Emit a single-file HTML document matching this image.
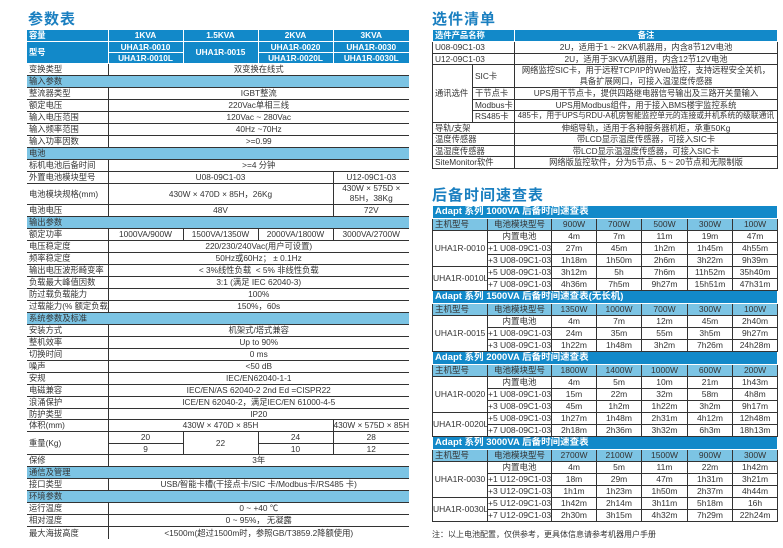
<!DOCTYPE html>
<html><head><meta charset="utf-8">
<style>
*{margin:0;padding:0;box-sizing:border-box}
body{width:783px;height:548px;background:#fff;position:relative;overflow:hidden;font-family:"Liberation Sans","Noto Sans CJK SC",sans-serif;color:#333}
.title{position:absolute;font-size:15px;font-weight:bold;color:#1a7fc0;letter-spacing:1px}
table{position:absolute;border-collapse:collapse;table-layout:fixed;font-size:8.3px}
td{border:1px solid #333;text-align:center;white-space:nowrap;overflow:hidden;line-height:1;padding:0}
td.l{text-align:left;padding-left:2px}
tr.h td{background:#1289c9;color:#fff;font-weight:bold;border-color:#fff}
tr.s td{background:#7cc4e4;color:#333;border-color:#333}
tr.c td{background:#7cc4e4;color:#333}
#L td{height:12px}
#L td:first-child{border-left:none}
#L td:last-child{border-right:none}
</style></head><body>
<div class="title" style="left:28px;top:8px">参数表</div>
<table id="L" style="left:27px;top:29px;width:382px">
<colgroup><col style="width:81px"><col style="width:75px"><col style="width:75px"><col style="width:75px"><col style="width:76px"></colgroup>
<tr class="h"><td class="l">容量</td><td>1KVA</td><td>1.5KVA</td><td>2KVA</td><td>3KVA</td></tr>
<tr class="h"><td class="l" rowspan="2">型号</td><td style="height:11px">UHA1R-0010</td><td rowspan="2">UHA1R-0015</td><td style="height:11px">UHA1R-0020</td><td style="height:11px">UHA1R-0030</td></tr>
<tr class="h"><td style="height:11px">UHA1R-0010L</td><td style="height:11px">UHA1R-0020L</td><td style="height:11px">UHA1R-0030L</td></tr>
<tr><td class="l">变换类型</td><td colspan="4">双变换在线式</td></tr>
<tr class="s"><td class="l" colspan="5">输入参数</td></tr>
<tr><td class="l">整流器类型</td><td colspan="4">IGBT整流</td></tr>
<tr><td class="l">额定电压</td><td colspan="4">220Vac单相三线</td></tr>
<tr><td class="l">输入电压范围</td><td colspan="4">120Vac ~ 280Vac</td></tr>
<tr><td class="l">输入频率范围</td><td colspan="4">40Hz ~70Hz</td></tr>
<tr><td class="l">输入功率因数</td><td colspan="4">&gt;=0.99</td></tr>
<tr class="s"><td class="l" colspan="5">电池</td></tr>
<tr><td class="l">标机电池后备时间</td><td colspan="4">&gt;=4 分钟</td></tr>
<tr><td class="l">外置电池模块型号</td><td colspan="3">U08-09C1-03</td><td>U12-09C1-03</td></tr>
<tr><td class="l" style="height:21px">电池模块规格(mm)</td><td colspan="3">430W × 470D × 85H，26Kg</td><td style="line-height:1.15">430W × 575D ×<br>85H，38Kg</td></tr>
<tr><td class="l">电池电压</td><td colspan="3">48V</td><td>72V</td></tr>
<tr class="s"><td class="l" colspan="5">输出参数</td></tr>
<tr><td class="l">额定功率</td><td>1000VA/900W</td><td>1500VA/1350W</td><td>2000VA/1800W</td><td>3000VA/2700W</td></tr>
<tr><td class="l">电压稳定度</td><td colspan="4">220/230/240Vac(用户可设置)</td></tr>
<tr><td class="l">频率稳定度</td><td colspan="4">50Hz或60Hz； ± 0.1Hz</td></tr>
<tr><td class="l">输出电压波形畸变率</td><td colspan="4">&lt; 3%线性负载 &nbsp;&lt; 5% 非线性负载</td></tr>
<tr><td class="l">负载最大峰值因数</td><td colspan="4">3:1 (满足 IEC 62040-3)</td></tr>
<tr><td class="l">防过载负载能力</td><td colspan="4">100%</td></tr>
<tr><td class="l">过载能力(% 额定负载)</td><td colspan="4">150%，60s</td></tr>
<tr class="s"><td class="l" colspan="5">系统参数及标准</td></tr>
<tr><td class="l">安装方式</td><td colspan="4">机架式/塔式兼容</td></tr>
<tr><td class="l">整机效率</td><td colspan="4">Up to 90%</td></tr>
<tr><td class="l">切换时间</td><td colspan="4">0 ms</td></tr>
<tr><td class="l">噪声</td><td colspan="4">&lt;50 dB</td></tr>
<tr><td class="l">安规</td><td colspan="4">IEC/EN62040-1-1</td></tr>
<tr><td class="l">电磁兼容</td><td colspan="4">IEC/EN/AS 62040-2 2nd Ed =CISPR22</td></tr>
<tr><td class="l">浪涌保护</td><td colspan="4">ICE/EN 62040-2，满足IEC/EN 61000-4-5</td></tr>
<tr><td class="l" style="height:11px">防护类型</td><td colspan="4" style="height:11px">IP20</td></tr>
<tr><td class="l">体积(mm)</td><td colspan="3">430W × 470D × 85H</td><td>430W × 575D × 85H</td></tr>
<tr><td class="l" rowspan="2">重量(Kg)</td><td style="height:11.5px">20</td><td rowspan="2">22</td><td style="height:11.5px">24</td><td style="height:11.5px">28</td></tr>
<tr><td style="height:11.5px">9</td><td style="height:11.5px">10</td><td style="height:11.5px">12</td></tr>
<tr><td class="l">保修</td><td colspan="4">3年</td></tr>
<tr class="s"><td class="l" colspan="5">通信及管理</td></tr>
<tr><td class="l">接口类型</td><td colspan="4">USB/智能卡槽(干接点卡/SIC 卡/Modbus卡/RS485 卡)</td></tr>
<tr class="s"><td class="l" colspan="5">环境参数</td></tr>
<tr><td class="l">运行温度</td><td colspan="4">0 ~ +40 ℃</td></tr>
<tr><td class="l">相对湿度</td><td colspan="4">0 ~ 95%， 无凝露</td></tr>
<tr><td class="l" style="border-bottom:none">最大海拔高度</td><td colspan="4" style="border-bottom:none">&lt;1500m(超过1500m时，参照GB/T3859.2降额使用)</td></tr>
</table>

<div class="title" style="left:432px;top:8px">选件清单</div>
<table style="left:432px;top:29px;width:345px">
<colgroup><col style="width:40px"><col style="width:42px"><col style="width:263px"></colgroup>
<tr class="h"><td class="l" colspan="2" style="height:12px">选件产品名称</td><td>备注</td></tr>
<tr><td class="l" colspan="2" style="height:11.5px">U08-09C1-03</td><td>2U，适用于1 ~ 2KVA机器用，内含8节12V电池</td></tr>
<tr><td class="l" colspan="2" style="height:11.5px">U12-09C1-03</td><td>2U，适用于3KVA机器用，内含12节12V电池</td></tr>
<tr><td class="l" rowspan="4">通讯选件</td><td class="l" style="height:23px">SIC卡</td><td style="line-height:1.3">网络监控SIC卡，用于远程TCP/IP的Web监控，支持远程安全关机，<br>具备扩展网口，可接入温湿度传感器</td></tr>
<tr><td class="l" style="height:11.5px">干节点卡</td><td>UPS用干节点卡，提供四路继电器信号输出及三路开关量输入</td></tr>
<tr><td class="l" style="height:11.5px">Modbus卡</td><td>UPS用Modbus组件，用于接入BMS楼宇监控系统</td></tr>
<tr><td class="l" style="height:11.5px">RS485卡</td><td style="font-size:7.8px">485卡，用于UPS与RDU-A机房智能监控单元的连接或并机系统的级联通讯</td></tr>
<tr><td class="l" colspan="2" style="height:11.5px">导轨/支架</td><td>伸缩导轨，适用于各种服务器机柜，承重50Kg</td></tr>
<tr><td class="l" colspan="2" style="height:11.5px">温度传感器</td><td>带LCD显示温度传感器，可接入SIC卡</td></tr>
<tr><td class="l" colspan="2" style="height:11.5px">温湿度传感器</td><td>带LCD显示温湿度传感器，可接入SIC卡</td></tr>
<tr><td class="l" colspan="2" style="height:11.5px">SiteMonitor软件</td><td>网络版监控软件，分为5节点、5 ~ 20节点和无限制版</td></tr>
</table>

<div class="title" style="left:432px;top:184px">后备时间速查表</div>
<table style="left:432px;top:205px;width:345px;font-size:8.5px">
<colgroup><col style="width:55px"><col style="width:64px"><col style="width:45px"><col style="width:45px"><col style="width:46px"><col style="width:45px"><col style="width:45px"></colgroup>
<tr class="h"><td class="l" colspan="7" style="height:13px;font-size:9.5px">Adapt 系列 1000VA 后备时间速查表</td></tr>
<tr class="c"><td class="l" style="height:12px">主机型号</td><td>电池模块型号</td><td>900W</td><td>700W</td><td>500W</td><td>300W</td><td>100W</td></tr>
<tr><td rowspan="3">UHA1R-0010</td><td style="height:12px">内置电池</td><td>4m</td><td>7m</td><td>11m</td><td>19m</td><td>47m</td></tr>
<tr><td style="height:12px">+1 U08-09C1-03</td><td>27m</td><td>45m</td><td>1h2m</td><td>1h45m</td><td>4h55m</td></tr>
<tr><td style="height:12px">+3 U08-09C1-03</td><td>1h18m</td><td>1h50m</td><td>2h6m</td><td>3h22m</td><td>9h39m</td></tr>
<tr><td rowspan="2">UHA1R-0010L</td><td style="height:12px">+5 U08-09C1-03</td><td>3h12m</td><td>5h</td><td>7h6m</td><td>11h52m</td><td>35h40m</td></tr>
<tr><td style="height:12px">+7 U08-09C1-03</td><td>4h36m</td><td>7h5m</td><td>9h27m</td><td>15h51m</td><td>47h31m</td></tr>
<tr class="h"><td class="l" colspan="7" style="height:13px;font-size:9.5px">Adapt 系列 1500VA 后备时间速查表(无长机)</td></tr>
<tr class="c"><td class="l" style="height:12px">主机型号</td><td>电池模块型号</td><td>1350W</td><td>1000W</td><td>700W</td><td>300W</td><td>100W</td></tr>
<tr><td rowspan="3">UHA1R-0015</td><td style="height:12px">内置电池</td><td>4m</td><td>7m</td><td>12m</td><td>45m</td><td>2h40m</td></tr>
<tr><td style="height:12px">+1 U08-09C1-03</td><td>24m</td><td>35m</td><td>55m</td><td>3h5m</td><td>9h27m</td></tr>
<tr><td style="height:12px">+3 U08-09C1-03</td><td>1h22m</td><td>1h48m</td><td>3h2m</td><td>7h26m</td><td>24h28m</td></tr>
<tr class="h"><td class="l" colspan="7" style="height:13px;font-size:9.5px">Adapt 系列 2000VA 后备时间速查表</td></tr>
<tr class="c"><td class="l" style="height:12px">主机型号</td><td>电池模块型号</td><td>1800W</td><td>1400W</td><td>1000W</td><td>600W</td><td>200W</td></tr>
<tr><td rowspan="3">UHA1R-0020</td><td style="height:12px">内置电池</td><td>4m</td><td>5m</td><td>10m</td><td>21m</td><td>1h43m</td></tr>
<tr><td style="height:12px">+1 U08-09C1-03</td><td>15m</td><td>22m</td><td>32m</td><td>58m</td><td>4h8m</td></tr>
<tr><td style="height:12px">+3 U08-09C1-03</td><td>45m</td><td>1h2m</td><td>1h22m</td><td>3h2m</td><td>9h17m</td></tr>
<tr><td rowspan="2">UHA1R-0020L</td><td style="height:12px">+5 U08-09C1-03</td><td>1h27m</td><td>1h48m</td><td>2h31m</td><td>4h12m</td><td>12h48m</td></tr>
<tr><td style="height:12px">+7 U08-09C1-03</td><td>2h18m</td><td>2h36m</td><td>3h32m</td><td>6h3m</td><td>18h13m</td></tr>
<tr class="h"><td class="l" colspan="7" style="height:13px;font-size:9.5px">Adapt 系列 3000VA 后备时间速查表</td></tr>
<tr class="c"><td class="l" style="height:12px">主机型号</td><td>电池模块型号</td><td>2700W</td><td>2100W</td><td>1500W</td><td>900W</td><td>300W</td></tr>
<tr><td rowspan="3">UHA1R-0030</td><td style="height:12px">内置电池</td><td>4m</td><td>5m</td><td>11m</td><td>22m</td><td>1h42m</td></tr>
<tr><td style="height:12px">+1 U12-09C1-03</td><td>18m</td><td>29m</td><td>47m</td><td>1h31m</td><td>3h21m</td></tr>
<tr><td style="height:12px">+3 U12-09C1-03</td><td>1h1m</td><td>1h23m</td><td>1h50m</td><td>2h37m</td><td>4h44m</td></tr>
<tr><td rowspan="2">UHA1R-0030L</td><td style="height:12px">+5 U12-09C1-03</td><td>1h42m</td><td>2h14m</td><td>3h11m</td><td>5h18m</td><td>16h</td></tr>
<tr><td style="height:12px">+7 U12-09C1-03</td><td>2h30m</td><td>3h15m</td><td>4h32m</td><td>7h29m</td><td>22h24m</td></tr>
</table>
<div style="position:absolute;left:432px;top:529px;font-size:8px;color:#333">注：以上电池配置，仅供参考，更具体信息请参考机器用户手册</div>
</body></html>
